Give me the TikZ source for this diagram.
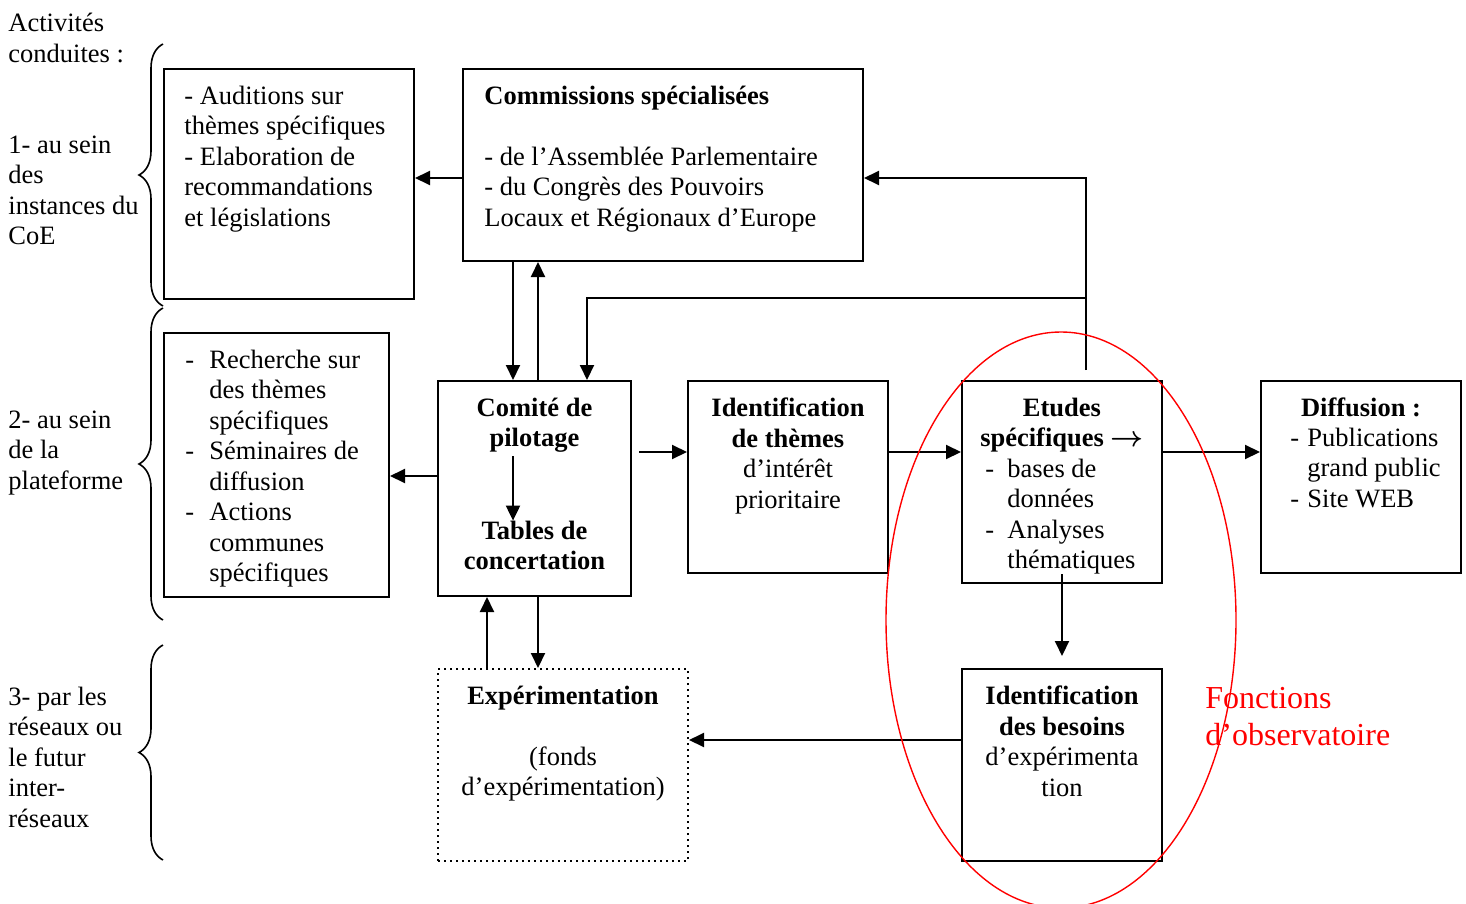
\documentclass[tikz,border=0pt]{standalone}
\usepackage{fontspec}
\setmainfont{Liberation Serif}
\usepackage{tikz}
\usetikzlibrary{calc}
\usetikzlibrary{arrows.meta}
\usetikzlibrary{decorations.pathreplacing}

\newcommand{\lidash}[1]{\makebox[#1][l]{-}}

\begin{document}
\begin{tikzpicture}[x=0.5pt, y=-0.5pt, every node/.style={font=\fontsize{13.25}{15.25}\selectfont}]
  \tikzstyle{box}=[rectangle, draw=black, line width=1pt, inner sep=0pt, anchor=north west]
  \tikzstyle{connect}=[-{Triangle[length=7.5pt, width=7pt]}, line width=1pt]
  \tikzstyle{txt}=[anchor=north west, align=left, inner sep=0pt, execute at begin node=\strut]
  \tikzstyle{ctxt}=[anchor=north, align=center, inner sep=0pt, execute at begin node=\strut]
  \tikzstyle{brace}=[decorate, decoration={brace, amplitude=12pt}, line width=0.8pt]
  \useasboundingbox (0,0) rectangle (1466,904);

    % left column
    \node[txt] (lab0) at (8,13) {Activités\\conduites :};
    \node[txt] (lab1) at (8,135.5) {1- au sein\\des\\instances du\\CoE};
    \node[txt] (lab2) at (8,410.5) {2- au sein\\de la\\plateforme};
    \node[txt] (lab3) at (8,686.5) {3- par les\\réseaux ou\\le futur\\inter-\\réseaux};
    \draw[brace] (163,306) -- (163,44);
    \draw[brace] (163,620) -- (163,308);
    \draw[brace] (163,860) -- (163,645);

    % boxes
    \node[box, minimum width=125pt, minimum height=115pt] (aud) at (163,68) {};
    \node[box, minimum width=200pt, minimum height=96pt] (comm) at (462,68) {};
    \node[box, minimum width=112.5pt, minimum height=132pt] (rech) at (163,332) {};
    \node[box, minimum width=96.5pt, minimum height=107.5pt] (comite) at (437,380) {};
    \node[box, minimum width=100pt, minimum height=96pt] (ident) at (687,380) {};
    \node[box, minimum width=100pt, minimum height=101pt] (etu) at (961,380) {};
    \node[box, minimum width=100pt, minimum height=96pt] (diff) at (1260,380) {};
    \node[box, dotted, minimum width=125pt, minimum height=96pt] (exp) at (437,668) {};
    \node[box, minimum width=100pt, minimum height=96pt] (bes) at (961,668) {};

    % box texts
    \node[txt] (aud-t) at ([shift={(10.5pt,-8.8pt)}]aud.north west)
      {- Auditions sur\\thèmes spécifiques\\- Elaboration de\\recommandations\\et législations};
    \node[txt] (comm-t) at ([shift={(11pt,-8.8pt)}]comm.north west)
      {\textbf{Commissions spécialisées}\\\mbox{}\\- de l’Assemblée Parlementaire\\- du Congrès des Pouvoirs\\Locaux et Régionaux d’Europe};
    \node[txt] (rech-t) at ([shift={(11pt,-8.8pt)}]rech.north west)
      {\lidash{12pt}Recherche sur\\\hspace*{12pt}des thèmes\\\hspace*{12pt}spécifiques\\
       \lidash{12pt}Séminaires de\\\hspace*{12pt}diffusion\\
       \lidash{12pt}Actions\\\hspace*{12pt}communes\\\hspace*{12pt}spécifiques};
    \node[ctxt, font=\fontsize{13.25}{15.25}\selectfont\bfseries] (pil) at ([yshift=-8.8pt]comite.north) {Comité de\\pilotage};
    \node[ctxt, font=\fontsize{13.25}{15.25}\selectfont\bfseries] (tab) at ([yshift=-70.3pt]comite.north) {Tables de\\concertation};
    \node[ctxt] (ident-t) at ([yshift=-8.8pt]ident.north)
      {\textbf{Identification}\\\textbf{de thèmes}\\d’intérêt\\prioritaire};
    \node[ctxt, font=\fontsize{13.25}{15.25}\selectfont\bfseries] (etu-h) at ([yshift=-8.8pt]etu.north) {Etudes\\spécifiques {\boldmath$\rightarrow$}};
    \node[txt] (etu-l) at ([shift={(12pt,-39.3pt)}]etu.north west)
      {\lidash{11pt}bases de\\\hspace*{11pt}données\\\lidash{11pt}Analyses\\\hspace*{11pt}thématiques};
    \node[ctxt, font=\fontsize{13.25}{15.25}\selectfont\bfseries] (diff-h) at ([yshift=-7.3pt]diff.north) {Diffusion :};
    \node[txt] (diff-l) at ([shift={(15pt,-23.8pt)}]diff.north west)
      {\lidash{8.5pt}Publications\\\hspace*{8.5pt}grand public\\\lidash{8.5pt}Site WEB};
    \node[ctxt] (exp-t) at ([yshift=-8.8pt]exp.north)
      {\textbf{Expérimentation}\\\mbox{}\\(fonds\\d’expérimentation)};
    \node[ctxt] (bes-t) at ([yshift=-8.8pt]bes.north)
      {\textbf{Identification}\\\textbf{des besoins}\\d’expérimenta\\tion};

    % helper rows and columns
    \coordinate (r1) at (0,178);
    \coordinate (r2) at (0,298);
    \coordinate (r3) at (0,476);
    \coordinate (r4) at (0,452);
    \coordinate (r5) at (0,740);
    \coordinate (p0) at (487,0);
    \coordinate (p1) at (513,0);
    \coordinate (p2) at (538,0);
    \coordinate (p3) at (587,0);
    \coordinate (p4) at (1086,0);

    \path (comm.west |- r1) edge [connect] (aud.east |- r1)
          (comm.south -| p1) edge [connect] (comite.north -| p1)
          (comite.north -| p2) edge [connect] (comm.south -| p2)
          (comite.west |- r3) edge [connect] (rech.east |- r3)
          (p1 |- pil.south) edge [connect] (p1 |- tab.north)
          (ident.east |- r4) edge [connect] (etu.west |- r4)
          (etu.east |- r4) edge [connect] (diff.west |- r4)
          (bes.west |- r5) edge [connect] (exp.east |- r5)
          (exp.north -| p0) edge [connect] (comite.south -| p0)
          (comite.south -| p2) edge [connect] (exp.north -| p2);
    \draw[connect] (comite.east |- r4) ++(7,0) -- (ident.west |- r4);
    \draw[connect] (etu.north -| p4) ++(0,-10) |- (comm.east |- r1);
    \draw[connect] (p4 |- r2) -| (comite.north -| p3);
    \draw[connect] (etu.south) ++(0,-10) -- ([yshift=6pt]bes.north);

    % observatoire
    \node[txt, red, font=\fontsize{16}{18.5}\selectfont] (obs) at (1205,686.5) {Fonctions\\d’observatoire};
    \draw[red, line width=0.7pt] (1061,620) ellipse [x radius=87.5pt, y radius=144pt];
  \end{tikzpicture}
\end{document}
